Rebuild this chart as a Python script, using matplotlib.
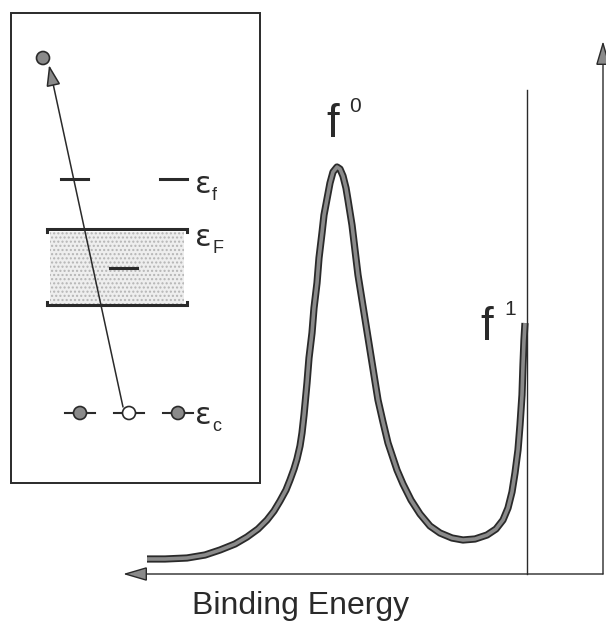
import matplotlib
matplotlib.use("Agg")
import matplotlib.pyplot as plt
from matplotlib.patches import Rectangle, Circle, FancyArrowPatch

# ---- data (drawing units: x to the right, y downward, figure-sized canvas) ----
# spectrum curve
curve_x = [147, 165, 187, 205, 220, 235, 247, 258, 267, 274, 280, 286, 290, 294, 297, 300,
           302, 304, 307, 309, 312, 314, 317, 319, 322, 324, 327, 330, 333, 337, 340, 343,
           346, 348, 352, 355, 358, 362, 366, 370, 374, 378, 383, 388, 393, 397, 403, 411,
           420, 430, 440, 452, 463, 475, 487, 496, 503, 508, 512, 515, 518, 520, 522, 523,
           524, 525]
curve_y = [559, 559, 558, 555, 550, 544, 537, 529, 520, 511, 501, 490, 480, 469, 459, 446,
           433, 415, 383, 358, 333, 308, 283, 258, 233, 215, 199, 183, 172, 167, 169, 176,
           188, 200, 225, 250, 275, 300, 325, 350, 375, 400, 422, 443, 458, 470, 484, 500,
           514, 526, 533, 538, 540, 539, 535, 529, 520, 508, 492, 473, 450, 425, 395, 365,
           340, 323]

peak_labels = ["f", "f"]
peak_sups = ["0", "1"]
level_labels = [("ε", "f"), ("ε", "F"), ("ε", "c")]
xlabel = "Binding Energy"

DARK = "#2a2a2a"
GRAY = "#8a8a8a"

fig = plt.figure(figsize=(6.06, 6.22), dpi=100)
ax = fig.add_axes([0, 0, 1, 1])
ax.set_xlim(0, 606)
ax.set_ylim(622, 0)
ax.axis("off")

# ---- spectrum axes ----
def arrow(p0, p1, lw=1.0, hl=0.75, hw=0.22):
    a = FancyArrowPatch(p0, p1, arrowstyle=f"-|>,head_length={hl},head_width={hw}",
                        mutation_scale=20, lw=lw, fc=GRAY, ec=DARK,
                        shrinkA=0, shrinkB=0, joinstyle="miter")
    ax.add_patch(a)

arrow((603, 574), (123, 574))
arrow((603, 574), (603, 41))
ax.plot([527, 527], [90, 574], color=DARK, lw=1.0)

# spectrum curve: dark outline with gray core
ax.plot(curve_x, curve_y, color=DARK, lw=5.2, solid_capstyle="butt", solid_joinstyle="round")
ax.plot(curve_x, curve_y, color=GRAY, lw=2.6, solid_capstyle="butt", solid_joinstyle="round")

# peak labels
ax.text(326, 137, peak_labels[0], fontsize=33, family="Liberation Sans", color=DARK,
        ha="left", va="baseline")
ax.text(349, 112, peak_sups[0], fontsize=15, family="Liberation Sans", color=DARK,
        ha="left", va="baseline")
ax.text(480, 340, peak_labels[1], fontsize=33, family="Liberation Sans", color=DARK,
        ha="left", va="baseline")
ax.text(504, 315, peak_sups[1], fontsize=15, family="Liberation Sans", color=DARK,
        ha="left", va="baseline")

ax.text(301, 614, xlabel, fontsize=23, family="Liberation Sans", color=DARK,
        ha="center", va="baseline")

# ---- inset energy-level diagram ----
ax.add_patch(Rectangle((11, 13), 249, 470, fill=False, ec=DARK, lw=1.4))

# conduction band (stippled)
ax.add_patch(Rectangle((50, 232), 134, 72, fc="#eeeeee", ec="#b5b5b5",
                       hatch="....", lw=0))
for yb, dy in [(229, 3), (305, -3)]:
    ax.plot([47, 47, 187, 187], [yb + dy, yb, yb, yb + dy], color=DARK, lw=2.2,
            solid_joinstyle="miter")
ax.plot([110, 137], [268, 268], color=DARK, lw=2.2)

# f levels
ax.plot([61, 88], [179, 179], color=DARK, lw=2.2)
ax.plot([160, 187], [179, 179], color=DARK, lw=2.2)

# core levels
for xc, filled in [(80, True), (129, False), (178, True)]:
    ax.plot([xc - 15, xc + 15], [413, 413], color=DARK, lw=1.5, zorder=2)
    ax.add_patch(Circle((xc, 413), 6.5, fc=GRAY if filled else "white", ec=DARK,
                        lw=1.2, zorder=3))

# photoemitted electron
ax.add_patch(Circle((43, 58), 6.5, fc=GRAY, ec=DARK, lw=1.2, zorder=3))
arrow((123, 407), (49, 65), lw=1.1, hl=0.65, hw=0.22)

# level labels
for (eps, sub), yb in zip(level_labels, [193, 246, 424]):
    ax.text(195, yb, eps, fontsize=22, family="DejaVu Sans", color=DARK,
            ha="left", va="baseline")
    ax.text(212, yb + 7, sub, fontsize=13, family="Liberation Sans", color=DARK,
            ha="left", va="baseline")

fig.savefig("out.png", dpi=100)
